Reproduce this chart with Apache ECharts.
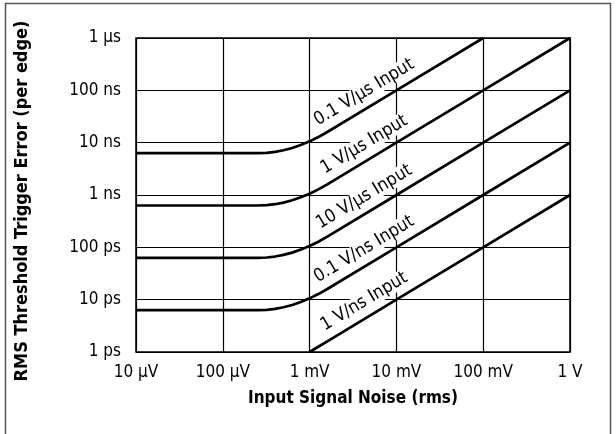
<!DOCTYPE html>
<html><head><meta charset="utf-8">
<script src="https://cdn.jsdelivr.net/npm/echarts@6/dist/echarts.min.js"></script>
<style>html,body{margin:0;padding:0;background:#fff}#c{width:616px;height:434px}</style>
</head><body><div id="c"></div>
<script>
// Input signal noise (V rms)
const noiseV = [1e-5, 2.5e-4, 3.2e-4, 4e-4, 5e-4, 6.3e-4, 7.9e-4, 1e-3, 1.26e-3, 1.6e-3, 1e-2, 1e-1, 1];
// RMS threshold trigger error (s) per input slew rate
const err01Vus = [6.3e-9, 6.3e-9, 6.39e-9, 6.67e-9, 7.16e-9, 7.93e-9, 9.06e-9, 1.06e-8, 1.28e-8, 1.6e-8, 1e-7, 1e-6, null];
const err1Vus  = [6.3e-10, 6.3e-10, 6.39e-10, 6.67e-10, 7.16e-10, 7.93e-10, 9.06e-10, 1.06e-9, 1.28e-9, 1.6e-9, 1e-8, 1e-7, 1e-6];
const err10Vus = [6.3e-11, 6.3e-11, 6.39e-11, 6.67e-11, 7.16e-11, 7.93e-11, 9.06e-11, 1.06e-10, 1.28e-10, 1.6e-10, 1e-9, 1e-8, 1e-7];
const err01Vns = [6.3e-12, 6.3e-12, 6.39e-12, 6.67e-12, 7.16e-12, 7.93e-12, 9.06e-12, 1.06e-11, 1.28e-11, 1.6e-11, 1e-10, 1e-9, 1e-8];
const err1Vns  = [null, null, null, null, null, null, null, 1e-12, 1.26e-12, 1.6e-12, 1e-11, 1e-10, 1e-9];
const seriesNames = ['0.1 V/μs Input', '1 V/μs Input', '10 V/μs Input', '0.1 V/ns Input', '1 V/ns Input'];
// label anchor positions (data coords)
const labelNoise = [4.25e-3, 4.25e-3, 4.25e-3, 4.25e-3, 4.25e-3];
const labelErr = [9.2e-8, 9.2e-9, 9.2e-10, 9.2e-11, 9.2e-12];
const xTickLabels = ['10 μV', '100 μV', '1 mV', '10 mV', '100 mV', '1 V'];
const yTickLabels = ['1 ps', '10 ps', '100 ps', '1 ns', '10 ns', '100 ns', '1 μs'];

const FONT = '"Liberation Sans Narrow", "Arial Narrow", "DejaVu Sans Condensed", sans-serif';
const allErr = [err01Vus, err1Vus, err10Vus, err01Vns, err1Vns];

const chart = echarts.init(document.getElementById('c'), null, {renderer: 'canvas'});
const lineSeries = allErr.map((arr, i) => ({
  type: 'line', name: seriesNames[i],
  data: noiseV.map((x, j) => [x, arr[j]]),
  symbol: 'none', smooth: false, connectNulls: false,
  lineStyle: {color: '#000', width: 2.7, join: 'round'}, z: 5, silent: true
}));
chart.setOption({
  animation: false,
  backgroundColor: '#fff',
  graphic: [{type: 'rect', shape: {x: 5.5, y: 3.5, width: 605, height: 450},
    style: {fill: 'none', stroke: '#555', lineWidth: 1.5}, silent: true}],
  grid: {left: 136, right: 46, top: 38, bottom: 82, containLabel: false, outerBoundsMode: 'none',
    show: true, borderColor: '#000', borderWidth: 1.5, backgroundColor: 'transparent'},
  xAxis: {
    type: 'log', logBase: 10, min: 1e-5, max: 1, splitNumber: 5,
    name: 'Input Signal Noise (rms)', nameLocation: 'middle', nameGap: 38,
    nameTextStyle: {fontFamily: FONT, fontWeight: 'bold', fontSize: 17, color: '#000'},
    axisLine: {show: false}, axisTick: {show: false},
    axisLabel: {fontFamily: FONT, fontSize: 17, color: '#000', margin: 12,
      formatter: v => xTickLabels[Math.round(Math.log10(v)) + 5]},
    splitLine: {show: true, lineStyle: {color: '#000', width: 1.2}}
  },
  yAxis: {
    type: 'log', logBase: 10, min: 1e-12, max: 1e-6, splitNumber: 6,
    name: 'RMS Threshold Trigger Error (per edge)', nameLocation: 'middle', nameGap: 105,
    nameTextStyle: {fontFamily: FONT, fontWeight: 'bold', fontSize: 18, color: '#000', padding: [0, 12, 0, 0]},
    axisLine: {show: false}, axisTick: {show: false},
    axisLabel: {fontFamily: FONT, fontSize: 17, color: '#000', margin: 15,
      formatter: v => yTickLabels[Math.round(Math.log10(v)) + 12]},
    splitLine: {show: true, lineStyle: {color: '#000', width: 1.2}}
  },
  series: lineSeries.concat([{
    type: 'scatter', symbolSize: 0, z: 1, silent: true,
    itemStyle: {opacity: 1, color: '#000'},
    data: labelNoise.map((x, i) => [x, labelErr[i]]),
    label: {show: true, position: 'inside', rotate: 31, fontFamily: FONT, fontSize: 18, color: '#000',
      backgroundColor: '#fff', padding: [0, 1],
      formatter: p => seriesNames[p.dataIndex]}
  }])
});
</script></body></html>
